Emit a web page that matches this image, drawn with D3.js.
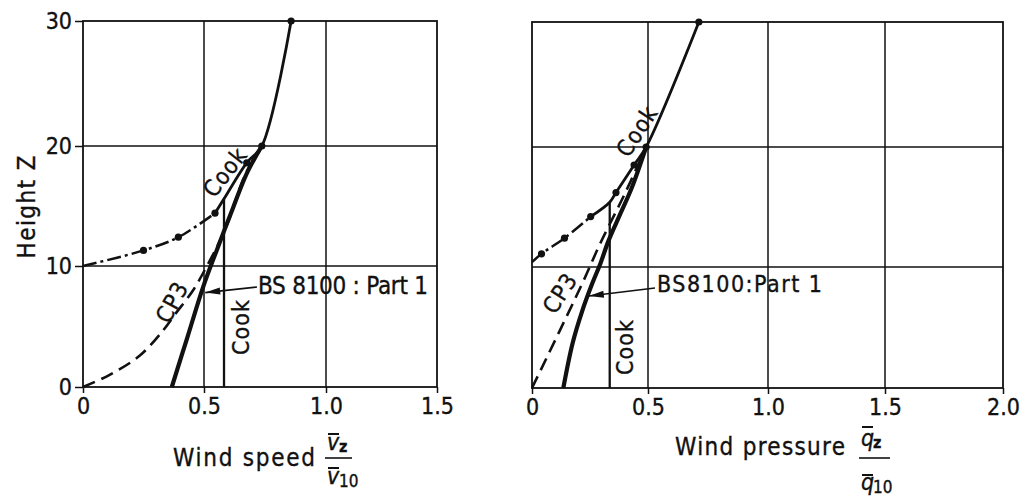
<!DOCTYPE html>
<html>
<head>
<meta charset="utf-8">
<script src="https://cdn.jsdelivr.net/npm/d3@7"></script>
<style>
  html, body { margin: 0; padding: 0; background: #fff; }
  svg { display: block; }
  text { font-family: "Liberation Sans Narrow", "DejaVu Sans Condensed", "DejaVu Sans", sans-serif; fill: #111; stroke: #111; stroke-width: 0.35px; }
</style>
</head>
<body>
<svg id="chart" width="1026" height="496"></svg>
<script>
// ---- Wind speed panel: [ratio, height] pairs ----
const speedBS8100 = [[0.367, 0], [0.432, 4.15], [0.497, 8.3], [0.552, 11.3], [0.62, 14.9], [0.675, 17.7], [0.737, 20]];
const speedCP3 = [[0, 0], [0.11, 1.0], [0.235, 2.6], [0.332, 4.7], [0.38, 6.0], [0.455, 8.0], [0.512, 10.0], [0.565, 12.1], [0.605, 14.0], [0.638, 16.0], [0.678, 18.0], [0.737, 20]];
const speedCookExtension = [[0, 10], [0.25, 11.3], [0.394, 12.4], [0.545, 14.4]];
const speedCookUpper = [[0.545, 14.4], [0.582, 15.6], [0.675, 18.6], [0.737, 20], [0.857, 30]];
const speedCookConstant = [[0.582, 0], [0.582, 15.6]];
const speedCookDots = [[0.25, 11.3], [0.394, 12.4], [0.545, 14.4], [0.675, 18.6], [0.737, 20], [0.857, 30]];
const speedArrowTip = [0.505, 7.8];

// ---- Wind pressure panel ----
const pressureBS8100 = [[0.135, 0], [0.175, 3.7], [0.217, 6.4], [0.26, 8.65], [0.295, 10.3], [0.33, 12.2], [0.38, 14.4], [0.43, 16.6], [0.492, 20]];
const pressureCP3 = [[0, 0], [0.217, 8.65], [0.295, 12.0], [0.40, 16.1], [0.492, 20]];
const pressureCookExtension = [[0, 10.4], [0.041, 11.1], [0.14, 12.4], [0.253, 14.2]];
const pressureCookUpper = [[0.253, 14.2], [0.335, 15.4], [0.362, 16.2], [0.44, 18.5], [0.492, 20], [0.712, 30]];
const pressureCookConstant = [[0.335, 0], [0.335, 15.4]];
const pressureCookDots = [[0.041, 11.1], [0.14, 12.4], [0.253, 14.2], [0.362, 16.2], [0.44, 18.5], [0.492, 20], [0.712, 30]];
const pressureArrowTip = [0.245, 7.6];

// ---- Axis ticks ----
const heightTicks = [0, 10, 20, 30];
const speedTicks = [0, 0.5, 1.0, 1.5];
const pressureTicks = [0, 0.5, 1.0, 1.5, 2.0];
const tickLabel = d => d === 0 ? "0" : d3.format(".1f")(d);

const svg = d3.select("#chart");
const ink = "#111";

// Panels (the hand-drawn grid is slightly uneven, so the scales are piecewise)
const panels = [
  {
    x: d3.scaleLinear().domain(speedTicks).range([83, 204, 326, 437]),
    y: d3.scaleLinear().domain(heightTicks).range([387, 266, 146, 21]),
    xTicks: speedTicks, yLabels: true,
    bs: speedBS8100, cp3: speedCP3, ext: speedCookExtension, upper: speedCookUpper,
    constant: speedCookConstant, dots: speedCookDots, tip: speedArrowTip,
    arrowFrom: [257, 287],
    bsText: { x: 258, y: 294, len: 170, text: "BS 8100 : Part 1", size: 24 },
    cookV: { x: 241, y: 327 }, cookU: { x: 225, y: 172, a: -52 }, cp3T: { x: 172, y: 302, a: -62 }
  },
  {
    x: d3.scaleLinear().domain(pressureTicks).range([532, 648, 768, 885, 1003]),
    y: d3.scaleLinear().domain(heightTicks).range([388, 267, 147, 22]),
    xTicks: pressureTicks, yLabels: false,
    bs: pressureBS8100, cp3: pressureCP3, ext: pressureCookExtension, upper: pressureCookUpper,
    constant: pressureCookConstant, dots: pressureCookDots, tip: pressureArrowTip,
    arrowFrom: [655, 288],
    bsText: { x: 657, y: 292, len: 165, text: "BS8100:Part 1", size: 23 },
    cookV: { x: 625, y: 347 }, cookU: { x: 637, y: 131, a: -57 }, cp3T: { x: 560, y: 293, a: -57 }
  }
];

panels.forEach(p => {
  const g = svg.append("g");
  const [x0, x1] = [p.x.range()[0], p.x.range()[p.x.range().length - 1]];
  const [y0, y1] = [p.y.range()[0], p.y.range()[p.y.range().length - 1]];

  // grid
  g.selectAll(".vgrid").data(p.xTicks.slice(1, -1)).join("line")
    .attr("x1", d => p.x(d)).attr("x2", d => p.x(d)).attr("y1", y0).attr("y2", y1)
    .attr("stroke", ink).attr("stroke-width", 1.5);
  g.selectAll(".hgrid").data(heightTicks.slice(1, -1)).join("line")
    .attr("x1", x0).attr("x2", x1).attr("y1", d => p.y(d)).attr("y2", d => p.y(d))
    .attr("stroke", ink).attr("stroke-width", 1.5);
  g.append("rect").attr("x", x0).attr("y", y1).attr("width", x1 - x0).attr("height", y0 - y1)
    .attr("fill", "none").attr("stroke", ink).attr("stroke-width", 1.8);

  // axes
  const ax = g.append("g").attr("transform", `translate(0,${y0})`)
    .call(d3.axisBottom(p.x).tickValues(p.xTicks).tickFormat(tickLabel).tickSize(6).tickPadding(5));
  ax.select(".domain").remove();
  ax.selectAll("line").attr("stroke", ink).attr("stroke-width", 1.5);
  ax.selectAll("text").attr("font-size", 23).attr("font-family", null).attr("fill", ink);

  if (p.yLabels) {
    const ay = g.append("g").attr("transform", `translate(${x0},0)`)
      .call(d3.axisLeft(p.y).tickValues(heightTicks).tickFormat(d3.format("d")).tickSize(8).tickPadding(3));
    ay.select(".domain").remove();
    ay.selectAll("line").attr("stroke", ink).attr("stroke-width", 1.5);
    ay.selectAll("text").attr("font-size", 23).attr("font-family", null).attr("fill", ink);
  }

  const line = d3.line().x(d => p.x(d[0])).y(d => p.y(d[1])).curve(d3.curveCatmullRom.alpha(0.5));
  const straight = d3.line().x(d => p.x(d[0])).y(d => p.y(d[1]));

  // CP3 (dashed)
  g.append("path").attr("d", line(p.cp3)).attr("fill", "none").attr("stroke", ink)
    .attr("stroke-width", 2.6).attr("stroke-dasharray", "13,7");
  // Cook: constant speed below the gradient height
  g.append("path").attr("d", straight(p.constant)).attr("fill", "none").attr("stroke", ink).attr("stroke-width", 2.3);
  // Cook extension (chain-dotted)
  g.append("path").attr("d", line(p.ext)).attr("fill", "none").attr("stroke", ink)
    .attr("stroke-width", 2.5).attr("stroke-dasharray", "14,4,3,4");
  // Cook upper profile
  g.append("path").attr("d", line(p.upper)).attr("fill", "none").attr("stroke", ink).attr("stroke-width", 2.8);
  // BS 8100 (heavy)
  g.append("path").attr("d", line(p.bs)).attr("fill", "none").attr("stroke", ink)
    .attr("stroke-width", 4.2).attr("stroke-linecap", "butt");
  // points
  g.selectAll(".dot").data(p.dots).join("circle")
    .attr("cx", d => p.x(d[0])).attr("cy", d => p.y(d[1])).attr("r", 3.6).attr("fill", ink);

  // BS 8100 pointer
  const tx = p.x(p.tip[0]), ty = p.y(p.tip[1]);
  const [fx, fy] = p.arrowFrom;
  g.append("line").attr("x1", fx).attr("y1", fy).attr("x2", tx).attr("y2", ty)
    .attr("stroke", ink).attr("stroke-width", 1.6);
  const ang = Math.atan2(fy - ty, fx - tx);
  const hl = 15, hw = 3.5;
  const bx = tx + hl * Math.cos(ang), by = ty + hl * Math.sin(ang);
  const nx = -Math.sin(ang) * hw, ny = Math.cos(ang) * hw;
  g.append("path").attr("d", `M${tx},${ty}L${bx + nx},${by + ny}L${bx - nx},${by - ny}Z`).attr("fill", ink);

  g.append("text").attr("x", p.bsText.x).attr("y", p.bsText.y)
    .attr("font-size", p.bsText.size).attr("textLength", p.bsText.len).attr("lengthAdjust", "spacing")
    .text(p.bsText.text);

  // curve labels
  g.append("text").attr("transform", `translate(${p.cookV.x},${p.cookV.y}) rotate(-90)`)
    .attr("text-anchor", "middle").attr("dy", "0.35em").attr("font-size", 23).attr("letter-spacing", 1).text("Cook");
  g.append("text").attr("transform", `translate(${p.cookU.x},${p.cookU.y}) rotate(${p.cookU.a})`)
    .attr("text-anchor", "middle").attr("dy", "0.35em").attr("font-size", 23).attr("letter-spacing", 1).text("Cook");
  g.append("text").attr("transform", `translate(${p.cp3T.x},${p.cp3T.y}) rotate(${p.cp3T.a})`)
    .attr("text-anchor", "middle").attr("dy", "0.35em").attr("font-size", 23).attr("letter-spacing", 1).text("CP3");
});

// y-axis title
svg.append("text").attr("transform", "translate(27,207) rotate(-90)")
  .attr("text-anchor", "middle").attr("dy", "0.35em").attr("font-size", 24)
  .attr("textLength", 103).attr("lengthAdjust", "spacing").text("Height Z");

// x-axis titles with fractions
function fractionTitle(o) {
  const g = svg.append("g");
  g.append("text").attr("x", o.x).attr("y", o.y).attr("font-size", 24)
    .attr("textLength", o.len).attr("lengthAdjust", "spacing").text(o.label);
  // numerator
  g.append("text").attr("x", o.fx + 2).attr("y", o.numY).attr("font-size", 23).attr("font-style", "italic").text(o.sym);
  g.append("line").attr("x1", o.fx + 3).attr("x2", o.fx + 14).attr("y1", o.numBar).attr("y2", o.numBar)
    .attr("stroke", ink).attr("stroke-width", 2);
  g.append("text").attr("x", o.fx + 14).attr("y", o.numY + 2).attr("font-size", 16).attr("font-weight", "bold").text("z");
  // fraction bar
  g.append("line").attr("x1", o.fx).attr("x2", o.fx + o.w).attr("y1", o.barY).attr("y2", o.barY)
    .attr("stroke", ink).attr("stroke-width", 1.6);
  // denominator
  g.append("text").attr("x", o.fx + 2).attr("y", o.denY).attr("font-size", 23).attr("font-style", "italic").text(o.sym);
  g.append("line").attr("x1", o.fx + 3).attr("x2", o.fx + 14).attr("y1", o.denBar).attr("y2", o.denBar)
    .attr("stroke", ink).attr("stroke-width", 2);
  g.append("text").attr("x", o.fx + 14).attr("y", o.denY + 3).attr("font-size", 17).text("10");
}
fractionTitle({ label: "Wind speed", x: 173, y: 466, len: 142, sym: "v", fx: 325, w: 27,
  numY: 450, numBar: 434, barY: 458, denY: 484, denBar: 468 });
fractionTitle({ label: "Wind pressure", x: 675, y: 455, len: 170, sym: "q", fx: 859, w: 31,
  numY: 446, numBar: 427, barY: 458, denY: 490, denBar: 475 });
</script>
</body>
</html>
